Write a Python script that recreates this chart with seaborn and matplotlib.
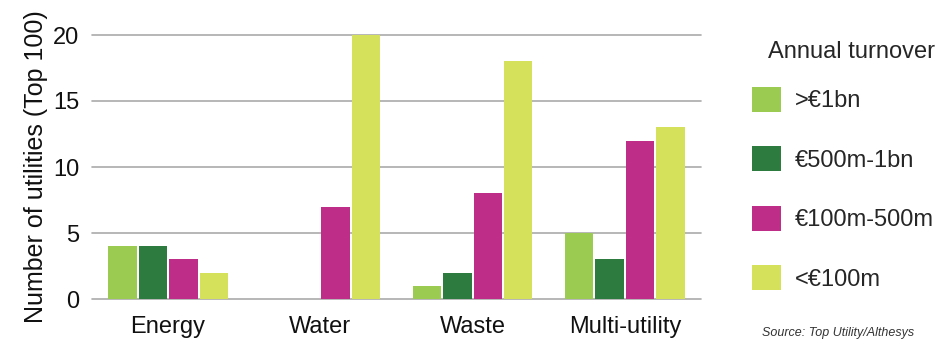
import matplotlib
matplotlib.use("Agg")
import matplotlib.pyplot as plt
import seaborn as sns
import pandas as pd

categories = ["Energy", "Water", "Waste", "Multi-utility"]
groups = [">€1bn", "€500m-1bn", "€100m-500m", "<€100m"]
v_1bn = [4, 0, 1, 5]
v_500m = [4, 0, 2, 3]
v_100m = [3, 7, 8, 12]
v_small = [2, 20, 18, 13]
colors = ["#9ccb52", "#2e7b3f", "#be2d88", "#d5e15b"]

rows = []
for g, vals in zip(groups, [v_1bn, v_500m, v_100m, v_small]):
    for c, v in zip(categories, vals):
        rows.append({"Sector": c, "Turnover": g, "Count": v})
df = pd.DataFrame(rows)

sns.set_theme(style="white")
plt.rcParams["font.family"] = ["Liberation Sans", "DejaVu Sans"]

fig = plt.figure(figsize=(9.44, 3.4), dpi=100)
ax = fig.add_axes([92/944, 41/340, 609/944, 264/340])
sns.barplot(data=df, x="Sector", y="Count", hue="Turnover", order=categories,
            hue_order=groups, palette=colors, width=0.8, gap=0.07,
            saturation=1, linewidth=0, ax=ax, legend=True)
ax.set_xlim(-0.5, 3.5)
ax.set_ylim(0, 20)
ax.set_yticks([0, 5, 10, 15, 20])
for y in [0, 5, 10, 15, 20]:
    ax.axhline(y, color="#aaaaaa", lw=1.2, zorder=0, clip_on=False)
for s in ax.spines.values():
    s.set_visible(False)
ax.tick_params(axis="y", length=0, pad=9, labelsize=17, colors="#111111")
ax.tick_params(axis="x", length=0, pad=12, labelsize=17, colors="#111111")
ax.set_xlabel("")
ax.set_ylabel("Number of utilities (Top 100)", fontsize=18, color="#111111", labelpad=4)

leg = ax.legend(title="Annual turnover", loc="upper left", bbox_to_anchor=(1.068, 1.012),
                frameon=False, fontsize=17, title_fontsize=17,
                handlelength=1.23, handleheight=1.23, labelspacing=1.45,
                handletextpad=0.6, borderaxespad=0)
leg._legend_box.align = "left"
leg._legend_box.sep = 17
leg.get_title().set_position((16, 0))

fig.text(762/944, 1/340, "Source: Top Utility/Althesys", fontsize=9, style="italic",
         color="#333333", va="bottom")

fig.savefig("out.png", dpi=100)
